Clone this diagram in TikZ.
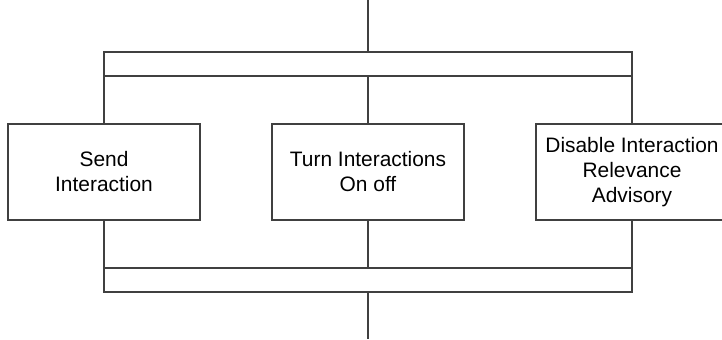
\documentclass[tikz,border=0pt]{standalone}
\usepackage{fontspec}
\setmainfont{Liberation Sans}
\definecolor{lngray}{RGB}{64,64,64}
\usetikzlibrary{positioning,calc}

\begin{document}
\begin{tikzpicture}[
  every node/.style={font=\fontsize{11.9}{14.2}\selectfont},
  barbox/.style={draw=lngray,line width=0.6pt,minimum width=10.56cm,minimum height=0.48cm,inner sep=0pt},
  actbox/.style={draw=lngray,line width=0.6pt,minimum width=3.84cm,minimum height=1.92cm,
                 align=center,inner sep=0pt},
  link/.style={draw=lngray,line width=0.6pt},
]
  \useasboundingbox (0,0) rectangle (14.44,6.78);
  \clip (0,0) rectangle (14.44,6.78);

  % Fork and join bars
  \node[barbox] (fork) at (7.36,5.50) {};
  \node[barbox] (join) at (7.36,1.18) {};
  \coordinate (in) at (7.36,6.78);
  \coordinate (out) at (7.36,0);

  % Parallel actions
  \node[actbox] (send) at (2.08,3.34) {Send\\Interaction};
  \node[actbox] (turn) at (7.36,3.34) {Turn Interactions\\On off};
  \node[actbox] (disable) at (12.64,3.34) {Disable Interaction\\Relevance\\Advisory};

  % Flow lines
  \draw[link] (in) -- (fork.north);
  \draw[link] (join.south) -- (out);
  \foreach \act in {send,turn,disable} {
    \draw[link] (\act.north |- fork.south) -- (\act.north);
    \draw[link] (\act.south) -- (\act.south |- join.north);
  }
\end{tikzpicture}
\end{document}
